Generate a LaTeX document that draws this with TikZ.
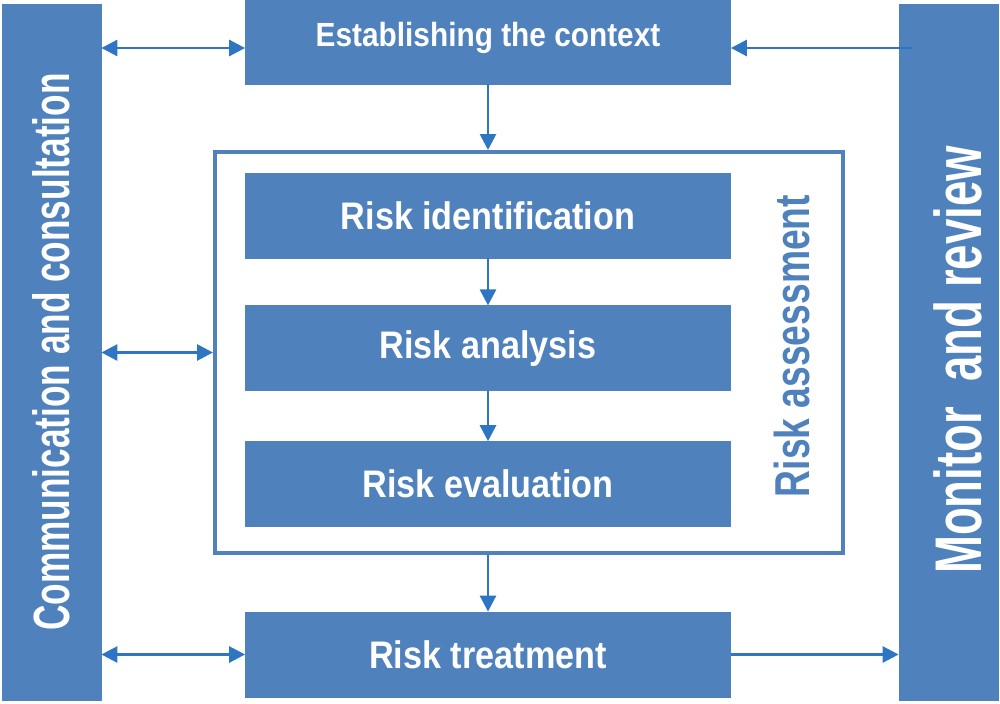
\documentclass[tikz,border=0pt]{standalone}
\usepackage{fontspec}
\setmainfont{Liberation Sans}
\newfontfamily\boxfont{Liberation Sans}[FakeStretch=0.89]
\newfontfamily\barfont{Liberation Sans}[FakeStretch=0.69]
\newfontfamily\assessfont{Liberation Sans}[FakeStretch=0.76]
\usetikzlibrary{arrows.meta,positioning}
\definecolor{RiskBlue}{RGB}{79,129,189}
\definecolor{LinkBlue}{RGB}{46,117,196}
\tikzset{
  stepbox/.style={rectangle,draw=RiskBlue,fill=RiskBlue,text=white,
    minimum width=242.5pt,minimum height=42.5pt,inner sep=0pt,
    font={\boxfont\bfseries\fontsize{19.2}{22}\selectfont}},
  sidebar/.style={rectangle,draw=RiskBlue,fill=RiskBlue,
    minimum width=49.5pt,minimum height=348pt,inner sep=0pt},
  bartext/.style={rotate=90,text=white,inner sep=0pt},
  link/.style={-{Triangle[length=8pt,width=8pt]},line width=1.4pt,color=LinkBlue},
  bilink/.style={link,{Triangle[length=8pt,width=8pt]}-{Triangle[length=8pt,width=8pt]}}
}
\begin{document}
\begin{tikzpicture}[x=0.5pt,y=-0.5pt,node distance=24pt]
  \useasboundingbox (0,0) rectangle (1000,703);
  % side bars
  \node[sidebar] (comm) at (51.5,352) {};
  \node[sidebar] (mon) at (948.5,352) {};
  \node[bartext,font={\barfont\bfseries\fontsize{25.5}{28}\selectfont}] (commtxt) at (51.5,352) {Communication and consultation};
  \node[bartext,font={\barfont\bfseries\fontsize{33}{36}\selectfont}] (montxt) at (958,360) {Monitor\ \ and review};
  % context and treatment
  \node[stepbox,minimum height=46pt,font={\boxfont\bfseries\fontsize{16.75}{20}\selectfont}] (ctx) at (488,38) {Establishing the context};
  \node[stepbox] (treat) at (488,654.5) {Risk treatment};
  % risk assessment frame
  \node[draw=RiskBlue,line width=2pt,minimum width=314pt,minimum height=200.5pt,inner sep=0pt] (assess) at (529,352.5) {};
  \node[stepbox] (ident) at (488,215.5) {Risk identification};
  \node[stepbox,below=23.5pt of ident] (anal) {Risk analysis};
  \node[stepbox,below=25pt of anal] (eval) {Risk evaluation};
  \node[rotate=90,text=RiskBlue,inner sep=0pt,font={\assessfont\bfseries\fontsize{24.5}{28}\selectfont}] (asstxt) at (791.5,346) {Risk assessment};
  % connectors
  \draw[bilink] ([yshift=-5pt]ctx.west) -- ([yshift=-5pt]ctx.west -| comm.east);
  \draw[link] ([yshift=-5pt,xshift=6.5pt]ctx.east -| mon.west) -- ([yshift=-5pt]ctx.east);
  \draw[link] (ctx.south) -- (ctx.south |- assess.north);
  \draw[bilink] (assess.west) -- (assess.west -| comm.east);
  \foreach \a/\b in {ident/anal,anal/eval}
    \draw[link] (\a) -- (\b);
  \draw[link] (treat.north |- assess.south) -- (treat.north);
  \draw[bilink] (treat.west) -- (treat.west -| comm.east);
  \draw[link] (treat.east) -- (treat.east -| mon.west);
\end{tikzpicture}
\end{document}
